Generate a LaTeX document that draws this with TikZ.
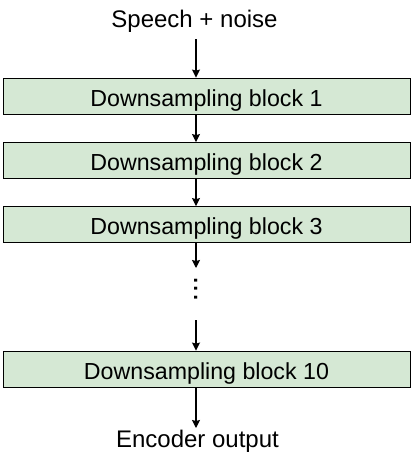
\documentclass[tikz,border=0pt]{standalone}
\usepackage{fontspec}
\setmainfont{Liberation Sans}
\usetikzlibrary{arrows.meta}
\definecolor{blkfill}{HTML}{D5E8D4}
\tikzset{
  blk/.style={rectangle,draw=black,fill=blkfill,line width=.8pt,minimum width=407pt,minimum height=36pt,
    inner sep=2pt,text height=20pt,text depth=0pt,font=\fontsize{23.2}{27}\selectfont},
  lb/.style={font=\fontsize{24}{28}\selectfont,anchor=base,inner sep=0pt},
  dts/.style={font=\fontsize{30}{30}\selectfont,rotate=-90,inner sep=0pt,text height=2.8pt,text depth=0pt},
  arr/.style={-{Stealth[length=8pt,width=8pt,inset=1pt]},line width=1.2pt,draw=black},
}
\begin{document}
\begin{tikzpicture}[x=1pt,y=-1pt]
\useasboundingbox (0,0) rectangle (413,458);
\node[lb] (in) at (194.5,27) {Speech + noise};
\coordinate (s0) at (196,39);
\node[blk] (b1) at (206.5,96) {Downsampling block 1};
\node[blk] (b2) at (206.5,160.5) {Downsampling block 2};
\node[blk] (b3) at (206.5,224.5) {Downsampling block 3};
% the dots stand for blocks 4 to 9
\coordinate (s3) at (196,268);
\node[dts] (dd) at (195.5,289) {...};
\coordinate (s9) at (196,320);
\node[blk] (b10) at (206.5,369) {Downsampling block 10};
\coordinate (s10) at (196,428);
\node[lb] (out) at (197.5,447) {Encoder output};
\draw[arr] (s0) -- (s0 |- b1.north);
\draw[arr] (s0 |- b1.south) -- (s0 |- b2.north);
\draw[arr] (s0 |- b2.south) -- (s0 |- b3.north);
\draw[arr] (s0 |- b3.south) -- (s3);
\draw[arr] (s9) -- (s9 |- b10.north);
\draw[arr] (s9 |- b10.south) -- (s10);
\end{tikzpicture}
\end{document}
